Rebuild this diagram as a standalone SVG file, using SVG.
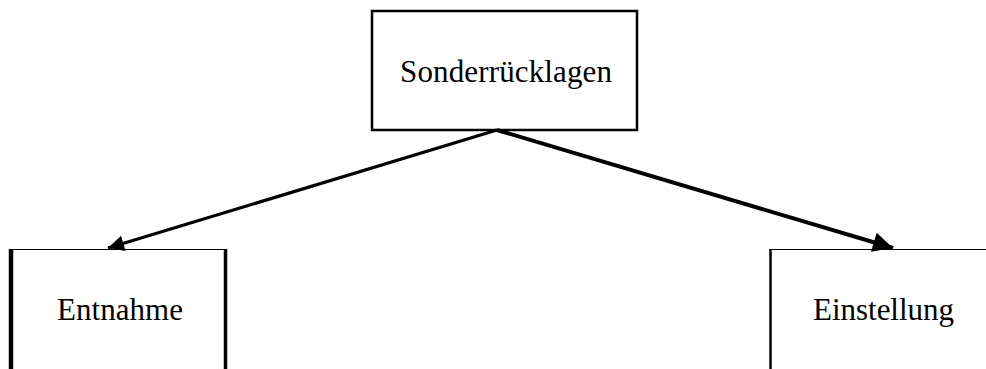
<svg xmlns="http://www.w3.org/2000/svg" width="986" height="369" viewBox="0 0 986 369">
<style>
text{font-family:"Liberation Serif","Times New Roman",serif;font-size:31px;fill:#000}
.box{fill:#fff;stroke:#000}
.conn{stroke:#000;fill:none}
</style>
<defs>
<marker id="ah" viewBox="0 0 10 10" refX="10" refY="5" markerWidth="7" markerHeight="5" markerUnits="strokeWidth" orient="auto"><path d="M0,0 L10,5 L0,10 Z" fill="#000"/></marker>
</defs>
<rect width="986" height="369" fill="#fff"/>
<g id="n-sonder">
<rect class="box" x="372" y="11" width="265" height="119" stroke-width="2.5"/>
<text x="400" y="82" textLength="212" lengthAdjust="spacing">Sonderrücklagen</text>
</g>
<g id="n-entnahme">
<line x1="9" y1="249.5" x2="227" y2="249.5" stroke="#000" stroke-width="1.2"/>
<line x1="11" y1="249" x2="11" y2="369" stroke="#000" stroke-width="4.5"/>
<line x1="225.5" y1="249" x2="225.5" y2="369" stroke="#000" stroke-width="3.5"/>
<text x="57" y="320" textLength="126" lengthAdjust="spacing">Entnahme</text>
</g>
<g id="n-einstellung">
<line x1="769" y1="249.5" x2="986" y2="249.5" stroke="#000" stroke-width="1.2"/>
<line x1="770.5" y1="249" x2="770.5" y2="369" stroke="#000" stroke-width="2.5"/>
<text x="813" y="320" textLength="141" lengthAdjust="spacing">Einstellung</text>
</g>
<g id="connectors">
<line class="conn" x1="497" y1="130" x2="108" y2="248" stroke-width="3.2" marker-end="url(#ah)"/>
<line class="conn" x1="497" y1="130" x2="893" y2="248" stroke-width="4" marker-end="url(#ah)"/>
</g>
</svg>
